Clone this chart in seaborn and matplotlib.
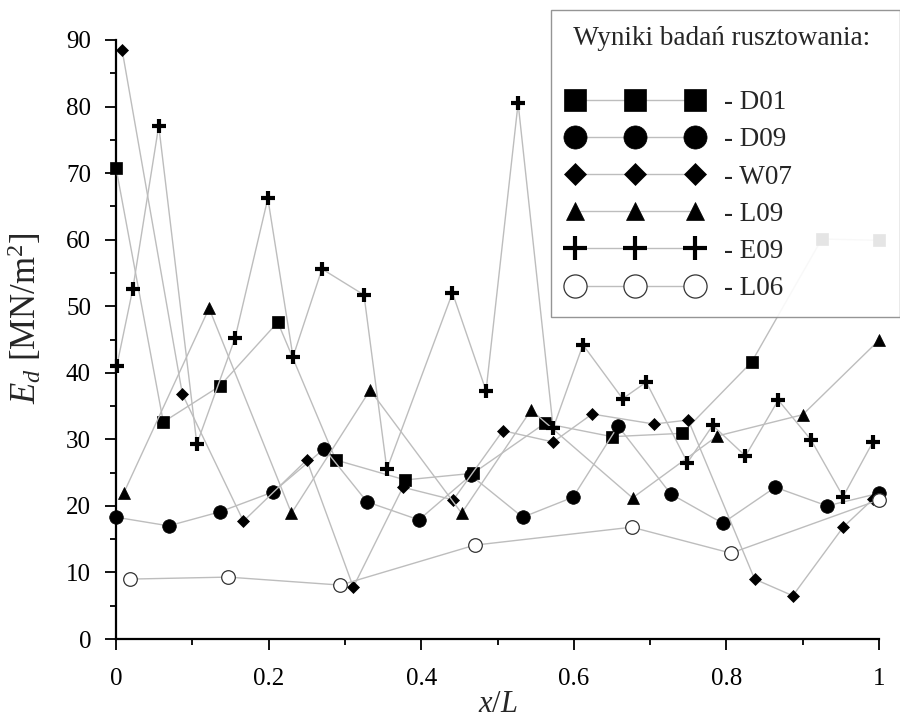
import matplotlib
matplotlib.use("Agg")
import matplotlib.pyplot as plt
import seaborn as sns
import numpy as np
from matplotlib.ticker import MultipleLocator
from matplotlib.lines import Line2D

# ---- data ----
d01_x = [0.0, 0.062, 0.136, 0.212, 0.288, 0.379, 0.468, 0.562, 0.650, 0.742, 0.833, 0.925, 1.0]
d01_y = [70.8, 32.6, 38.0, 47.6, 26.9, 23.9, 24.9, 32.4, 30.4, 30.9, 41.6, 60.1, 59.9]

d09_x = [0.0, 0.069, 0.136, 0.206, 0.273, 0.329, 0.397, 0.465, 0.533, 0.599, 0.658, 0.727, 0.795, 0.864, 0.932, 1.0]
d09_y = [18.3, 17.0, 19.1, 22.1, 28.6, 20.6, 17.9, 24.6, 18.3, 21.3, 32.0, 21.8, 17.4, 22.8, 20.0, 21.9]

w07_x = [0.008, 0.087, 0.167, 0.250, 0.311, 0.376, 0.442, 0.507, 0.573, 0.624, 0.705, 0.750, 0.837, 0.887, 0.953, 0.992]
w07_y = [88.5, 36.8, 17.7, 26.9, 7.8, 22.8, 20.9, 31.3, 29.6, 33.8, 32.3, 32.9, 9.0, 6.5, 16.8, 21.0]

l09_x = [0.010, 0.122, 0.230, 0.333, 0.453, 0.544, 0.677, 0.788, 0.900, 1.0]
l09_y = [21.9, 49.7, 18.9, 37.4, 18.9, 34.4, 21.2, 30.5, 33.7, 44.9]

e09_x = [0.001, 0.022, 0.056, 0.106, 0.156, 0.199, 0.232, 0.270, 0.325, 0.355, 0.441, 0.485,
         0.527, 0.573, 0.612, 0.664, 0.695, 0.749, 0.782, 0.825, 0.868, 0.911, 0.953, 0.992]
e09_y = [41.0, 52.6, 77.1, 29.3, 45.2, 66.2, 42.4, 55.6, 51.7, 25.5, 52.0, 37.3,
         80.5, 31.7, 44.2, 36.1, 38.6, 26.5, 32.1, 27.5, 35.9, 29.9, 21.4, 29.6]

l06_x = [0.018, 0.147, 0.294, 0.470, 0.676, 0.806, 1.0]
l06_y = [9.0, 9.3, 8.1, 14.1, 16.8, 12.9, 20.9]

series_names = ["D01", "D09", "W07", "L09", "E09", "L06"]
legend_title = "Wyniki badań rusztowania:"
x_ticks = [0, 0.2, 0.4, 0.6, 0.8, 1]
x_tick_labels = ["0", "0.2", "0.4", "0.6", "0.8", "1"]
y_ticks = [0, 10, 20, 30, 40, 50, 60, 70, 80, 90]

# ---- styling ----
sns.set_theme(style="white")
plt.rcParams["font.family"] = ["Liberation Serif", "DejaVu Serif"]
plt.rcParams["mathtext.fontset"] = "custom"
plt.rcParams["mathtext.rm"] = "Liberation Serif"
plt.rcParams["mathtext.it"] = "Liberation Serif:italic"

fig = plt.figure(figsize=(9.0, 7.24), dpi=100)
ax = fig.add_axes([116 / 900, 85 / 724, (879 - 116) / 900, (639 - 40) / 724])

line_col = "#bdbdbd"
styles = {
    "D01": dict(marker="s", markersize=9.3, markerfacecolor="black", markeredgecolor="black", markeredgewidth=0.5),
    "D09": dict(marker="o", markersize=9.8, markerfacecolor="black", markeredgecolor="black", markeredgewidth=0.5),
    "W07": dict(marker="D", markersize=6.6, markerfacecolor="black", markeredgecolor="black", markeredgewidth=0.5),
    "L09": dict(marker="^", markersize=8.0, markerfacecolor="black", markeredgecolor="black", markeredgewidth=0.5),
    "E09": dict(marker="+", markersize=10.5, markerfacecolor="black", markeredgecolor="black", markeredgewidth=3.0),
    "L06": dict(marker="o", markersize=9.8, markerfacecolor="white", markeredgecolor="#333333", markeredgewidth=0.9),
}
data = {
    "D01": (d01_x, d01_y),
    "D09": (d09_x, d09_y),
    "W07": (w07_x, w07_y),
    "L09": (l09_x, l09_y),
    "E09": (e09_x, e09_y),
    "L06": (l06_x, l06_y),
}

for i, name in enumerate(series_names):
    xs, ys = data[name]
    sns.lineplot(x=xs, y=ys, ax=ax, sort=False, color=line_col, linewidth=1.0,
                 clip_on=False, zorder=3 + i * 0.1, legend=False, **styles[name])

ax.set_xlim(0, 1)
ax.set_ylim(0, 90)
ax.xaxis.set_major_locator(MultipleLocator(0.2))
ax.xaxis.set_minor_locator(MultipleLocator(0.1))
ax.yaxis.set_major_locator(MultipleLocator(10))
ax.yaxis.set_minor_locator(MultipleLocator(5))
ax.set_xticks(x_ticks)
ax.set_xticklabels(x_tick_labels)
ax.set_yticks(y_ticks)

for s in ["top", "right"]:
    ax.spines[s].set_visible(False)
for s in ["left", "bottom"]:
    ax.spines[s].set_color("black")
    ax.spines[s].set_linewidth(1.6)

ax.tick_params(which="major", direction="out", length=8, width=1.3, colors="black",
               labelsize=18, left=True, bottom=True)
ax.tick_params(axis="y", which="major", pad=10)
ax.tick_params(axis="x", which="major", pad=13)
ax.tick_params(which="minor", direction="out", length=4.5, width=1.3, colors="black",
               left=True, bottom=True)

ax.set_xlabel(r"$x/L$", fontsize=22, labelpad=0)
ax.set_ylabel(r"$E_d$ [MN/m$^2$]", fontsize=25)
ax.yaxis.set_label_coords(-0.095, 0.536)

handles = []
for name in series_names:
    st = dict(styles[name])
    handles.append(Line2D([], [], color=line_col, linewidth=1.0, **st))
leg = fig.legend(handles, ["- " + n for n in series_names], title=" " + legend_title + "  ",
                 loc="upper right", bbox_to_anchor=(1.0, 1 - 10 / 724),
                 numpoints=3, handlelength=5.04, markerscale=1.7,
                 fontsize=19.5, title_fontsize=19.5, frameon=True, fancybox=False,
                 edgecolor="#8a8a8a", framealpha=0.9, borderpad=0.6,
                 labelspacing=0.45, handletextpad=0.74, borderaxespad=0)
leg.get_frame().set_linewidth(1.0)
leg._legend_box.sep = 28
leg._legend_box.align = "left"

fig.savefig("out.png", dpi=100, facecolor="white")
